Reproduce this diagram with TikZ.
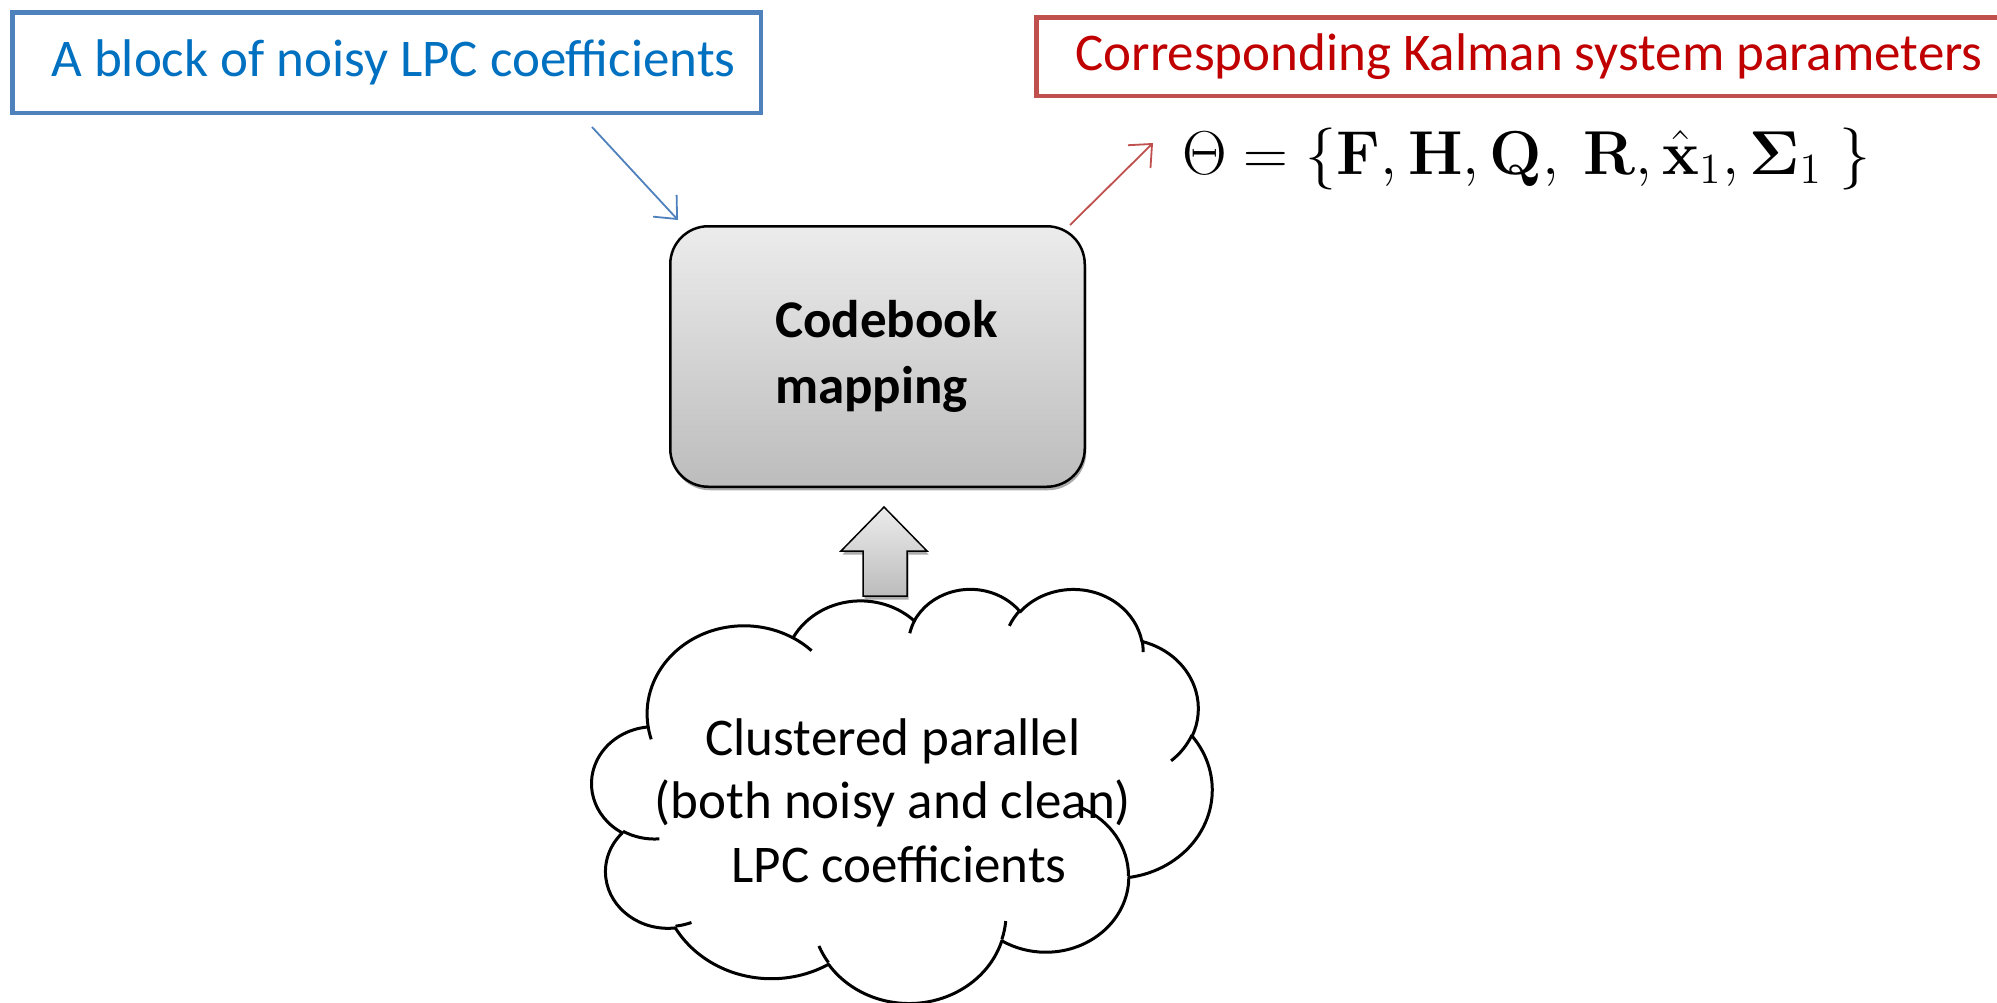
\documentclass[tikz,border=0pt]{standalone}
\usepackage{amsmath}
\usepackage{graphicx}
\usepackage[no-math]{fontspec}
\setmainfont{Carlito}
\usetikzlibrary{arrows.meta,shadows,calc}
\definecolor{bluebd}{RGB}{79,129,189}
\definecolor{bluetx}{RGB}{0,112,192}
\definecolor{redbd}{RGB}{192,80,77}
\definecolor{redtx}{RGB}{192,0,0}
\definecolor{gtop}{RGB}{236,236,236}
\definecolor{gbot}{RGB}{188,188,188}
% precompute cloud arc angles (OOXML visual angles -> parametric)
\newcommand\cldpre[5]{%
  \pgfmathsetmacro\cldtmpa{atan2((#2)*sin(#4),(#3)*cos(#4))}%
  \pgfmathsetmacro\cldtmpb{atan2((#2)*sin(#4+#5),(#3)*cos(#4+#5))}%
  \pgfmathsetmacro\cldtmpb{\cldtmpb<\cldtmpa ? \cldtmpb+360 : \cldtmpb}%
  \expandafter\xdef\csname clds#1\endcsname{\cldtmpa}%
  \expandafter\xdef\csname clde#1\endcsname{\cldtmpb}%
}
\cldpre{OA}{6.753}{9.190}{-190.4875}{123.7805}
\cldpre{OB}{5.333}{7.267}{-144.1024}{89.9452}
\cldpre{OC}{4.365}{5.945}{-145.8079}{99.7230}
\cldpre{OD}{4.857}{6.595}{-130.9861}{117.2417}
\cldpre{OE}{5.333}{7.273}{-78.7089}{109.0269}
\cldpre{OF}{6.775}{9.220}{-46.2673}{130.2690}
\cldpre{OG}{5.785}{7.867}{0.6250}{114.0333}
\cldpre{OH}{6.752}{9.215}{22.4516}{115.1726}
\cldpre{OI}{7.720}{10.543}{66.2426}{75.7110}
\cldpre{OJ}{4.360}{5.918}{-274.9421}{146.7356}
\cldpre{OK}{4.345}{5.945}{-246.8285}{152.5189}
\cldpre{HA}{4.345}{5.945}{86.7420}{26.4295}
\cldpre{HB}{4.360}{5.918}{73.6105}{11.4475}
\cldpre{HC}{6.752}{9.215}{137.6242}{14.0811}
\cldpre{HD}{6.752}{9.215}{6.4533}{15.9984}
\cldpre{HE}{5.785}{7.867}{-70.2924}{70.9174}
\cldpre{HF}{5.333}{7.273}{30.3180}{27.7515}
\cldpre{HG}{4.857}{6.595}{-13.7443}{14.8589}
\cldpre{HH}{4.857}{6.595}{-149.1815}{18.1954}
\cldpre{HI}{4.365}{5.945}{-163.4943}{17.6864}
\cldpre{HJ}{6.753}{9.190}{-66.7070}{12.3194}
\cldpre{HK}{6.753}{9.190}{157.6544}{11.8582}
\tikzset{
  lbl/.style={font=\fontsize{53}{64}\selectfont},
  topbox/.style={draw, line width=4.5pt, fill=white, inner sep=0pt, lbl},
  thinarrow/.style={line width=1.8pt, -{Straight Barb[length=18pt,width=32pt,line width=1.8pt]}},
  cloudline/.style={line width=3pt, draw=black, line join=round},
  grayshade/.style={top color=gtop, bottom color=gbot},
  shdw/.style={drop shadow={shadow xshift=1.5pt, shadow yshift=-3.5pt, fill=black!55, opacity=0.6}},
}
\begin{document}
\begin{tikzpicture}[x=1pt,y=1pt]
\clip (0,0) rectangle (1997,-1002);
\fill[white] (0,0) rectangle (1997,-1002);

% top boxes
\node[topbox, draw=bluebd, text=bluetx, minimum width=748.5pt, minimum height=100.5pt]
  (blk) at (386.5,-62.5) {\hspace*{14pt}A block of noisy LPC coefficients};
\node[topbox, draw=redbd, text=redtx, minimum width=985.5pt, minimum height=78.5pt]
  (kal) at (1529,-56.5) {Corresponding Kalman system parameters};

% formula
\node[anchor=base west, inner sep=0pt, font=\fontsize{20.74}{25}\selectfont] (theta) at (1182,-174)
  {\scalebox{2.99}{$\Theta=\{\mathbf{F},\mathbf{H},\mathbf{Q},\ \mathbf{R},\hat{\mathbf{x}}_1,\boldsymbol{\Sigma}_1\;\}$}};

% codebook box
\node[draw=black, line width=2.5pt, rounded corners=38pt, grayshade, shdw,
      minimum width=414.5pt, minimum height=260.5pt, align=left,
      font=\fontsize{53}{66}\selectfont\bfseries] (cb) at (877.5,-356.5)
  {\hspace*{18pt}Codebook\\\hspace*{18pt}mapping};

% thin arrows
\draw[thinarrow, bluebd] ([xshift=-171pt,yshift=-12pt]blk.south east) -- ([xshift=9pt,yshift=5pt]cb.north west);
\draw[thinarrow, redbd] ([xshift=-16pt]cb.north east) -- ([xshift=-29pt,yshift=31pt]theta.base west);

% block arrow (cloud -> codebook)
\coordinate (bt) at ($(cb.south)+(6.5,-19)$);
\draw[line width=1.5pt, grayshade, shdw, line join=miter]
  (bt) -- ++(43,-44) -- ++(-20,0) -- ++(0,-45) -- ++(-44,0) -- ++(0,45) -- ++(-22,0) -- cycle;

% cloud
\begin{scope}[shift={(592,-588)}, xscale=620/43.2, yscale=-414/43.2]
\draw[cloudline, fill=white] (3.9,14.37)
  arc[x radius=6.753, y radius=9.190, start angle=\cldsOA, end angle=\cldeOA]
  arc[x radius=5.333, y radius=7.267, start angle=\cldsOB, end angle=\cldeOB]
  arc[x radius=4.365, y radius=5.945, start angle=\cldsOC, end angle=\cldeOC]
  arc[x radius=4.857, y radius=6.595, start angle=\cldsOD, end angle=\cldeOD]
  arc[x radius=5.333, y radius=7.273, start angle=\cldsOE, end angle=\cldeOE]
  arc[x radius=6.775, y radius=9.220, start angle=\cldsOF, end angle=\cldeOF]
  arc[x radius=5.785, y radius=7.867, start angle=\cldsOG, end angle=\cldeOG]
  arc[x radius=6.752, y radius=9.215, start angle=\cldsOH, end angle=\cldeOH]
  arc[x radius=7.720, y radius=10.543, start angle=\cldsOI, end angle=\cldeOI]
  arc[x radius=4.360, y radius=5.918, start angle=\cldsOJ, end angle=\cldeOJ]
  arc[x radius=4.345, y radius=5.945, start angle=\cldsOK, end angle=\cldeOK]
  -- cycle;
\draw[cloudline]
  (4.693,26.177) arc[x radius=4.345, y radius=5.945, start angle=\cldsHA, end angle=\cldeHA]
  (6.928,34.899) arc[x radius=4.360, y radius=5.918, start angle=\cldsHB, end angle=\cldeHB]
  (16.478,39.090) arc[x radius=6.752, y radius=9.215, start angle=\cldsHC, end angle=\cldeHC]
  (28.827,34.751) arc[x radius=6.752, y radius=9.215, start angle=\cldsHD, end angle=\cldeHD]
  (34.129,22.954) arc[x radius=5.785, y radius=7.867, start angle=\cldsHE, end angle=\cldeHE]
  (41.798,15.354) arc[x radius=5.333, y radius=7.273, start angle=\cldsHF, end angle=\cldeHF]
  (38.324,5.426) arc[x radius=4.857, y radius=6.595, start angle=\cldsHG, end angle=\cldeHG]
  (29.078,3.952) arc[x radius=4.857, y radius=6.595, start angle=\cldsHH, end angle=\cldeHH]
  (22.141,4.720) arc[x radius=4.365, y radius=5.945, start angle=\cldsHI, end angle=\cldeHI]
  (14.000,5.192) arc[x radius=6.753, y radius=9.190, start angle=\cldsHJ, end angle=\cldeHJ]
  (4.127,15.789) arc[x radius=6.753, y radius=9.190, start angle=\cldsHK, end angle=\cldeHK];
\end{scope}

\node[anchor=base, align=center, inner sep=0pt, font=\fontsize{53}{63.5}\selectfont] (cltxt) at (893,-882)
  {Clustered parallel\\(both noisy and clean)\\\hspace*{12pt}LPC coefficients};
\end{tikzpicture}
\end{document}
